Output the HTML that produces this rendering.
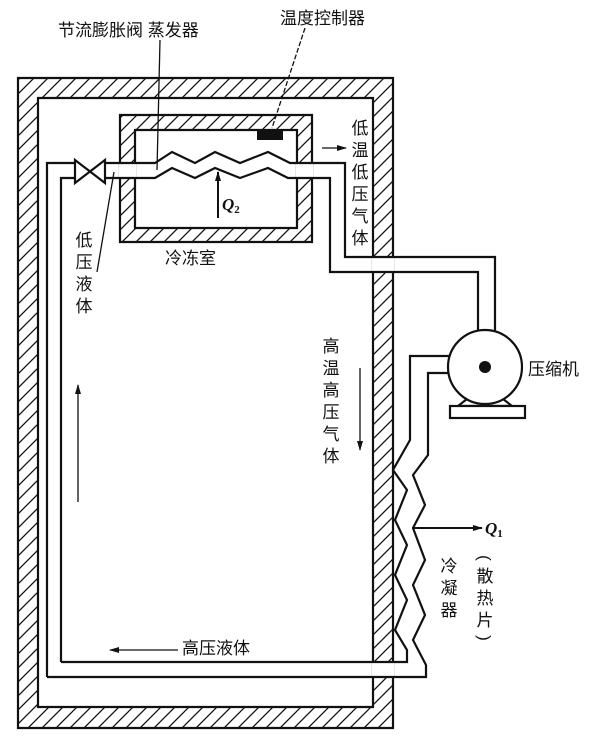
<!DOCTYPE html>
<html><head><meta charset="utf-8"><style>
html,body{margin:0;padding:0;background:#fff;}
svg{display:block;}
text{font-family:"Liberation Sans","Noto Sans CJK SC",sans-serif;fill:#111;}
</style></head><body>
<svg width="601" height="749" viewBox="0 0 601 749" xmlns="http://www.w3.org/2000/svg">
<defs>
<pattern id="h" width="14" height="14" patternUnits="userSpaceOnUse">
<path d="M-2,16 L16,-2 M-9,9 L9,-9 M5,23 L23,5" stroke="#111" stroke-width="1.3"/>
</pattern>
<marker id="a" markerWidth="10" markerHeight="8" refX="9" refY="4" orient="auto" markerUnits="userSpaceOnUse">
<path d="M0,1 L10,4 L0,7 Z" fill="#111"/>
</marker>
</defs>
<g stroke="#111" stroke-width="2.2" fill="none">
<path d="M18,78 H393 V728 H18 Z M38,98 V707 H373 V98 Z" fill="url(#h)" fill-rule="evenodd"/>
<path d="M120,115 H312 V242 H120 Z M135,130 V228 H297 V130 Z" fill="url(#h)" fill-rule="evenodd"/>
</g>
<rect x="372" y="258" width="22" height="13" fill="#fff"/>
<rect x="372" y="663" width="22" height="13" fill="#fff"/>
<rect x="119" y="164" width="17" height="13" fill="#fff"/>
<rect x="296" y="164" width="17" height="13" fill="#fff"/>
<rect x="48" y="164" width="12" height="498" fill="#fff"/>
<g stroke="#111" stroke-width="2.2" fill="none" stroke-linejoin="miter">
<path d="M47,677 V163 H75 M105,163 H155 L172,152 L195,163 L215,152 L240,163 L268,152 L290,163 H345 V257 H495 V332"/>
<path d="M61,662 V178 H75 M105,178 H155 L172,168 L195,178 L215,168 L240,178 L268,168 L288,178 H330 V272 H478 V332"/>
<path d="M75,160 L105,183 V160 L75,183 Z" fill="#fff"/>
<circle cx="485" cy="367" r="37" fill="#fff"/>
<path d="M467,399 L458,406 H512 L503,399"/>
<rect x="450" y="406" width="75" height="12" fill="#fff"/>
<path d="M449,356 H410 V440 L393,470 L407,490 L395,520 L407,545 L395,575 L407,600 L395,630 L407,650 V662 H61"/>
<path d="M449,373 H428 V455 L413,475 L425,505 L413,528 L425,560 L413,585 L425,615 L413,640 L426,665 V677 H47"/>
</g>
<circle cx="485" cy="367" r="6" fill="#111"/>
<rect x="257" y="129" width="26" height="11" fill="#111"/>
<g stroke="#111" stroke-width="1.3" fill="none">
<path d="M160,40 L157,170"/>
<path d="M305,28 L272,128" stroke-dasharray="5,2"/>
<path d="M97,272 L114,172"/>
<path d="M322,148 H346" marker-end="url(#a)"/>
<path d="M218,218 V172" marker-end="url(#a)" stroke-width="2"/>
<path d="M360,368 V450" marker-end="url(#a)"/>
<path d="M78,502 V385" marker-end="url(#a)"/>
<path d="M178,650 H110" marker-end="url(#a)"/>
<path d="M413,528 H482" marker-end="url(#a)" stroke-width="2"/>
</g>
<g font-size="17">
<text x="58" y="36">节流膨胀阀 蒸发器</text>
<text x="280" y="24">温度控制器</text>
<text x="165" y="264">冷冻室</text>
<text x="182" y="654">高压液体</text>
<text x="528" y="375">压缩机</text>
</g>
<g font-size="17" text-anchor="middle">
<text x="360" y="134">低</text><text x="360" y="156">温</text><text x="360" y="178">低</text><text x="360" y="200">压</text><text x="360" y="222">气</text><text x="360" y="244">体</text>
<text x="84" y="246">低</text><text x="84" y="268">压</text><text x="84" y="290">液</text><text x="84" y="312">体</text>
<text x="331" y="352">高</text><text x="331" y="374">温</text><text x="331" y="396">高</text><text x="331" y="418">压</text><text x="331" y="440">气</text><text x="331" y="462">体</text>
<text x="449" y="572">冷</text><text x="449" y="594">凝</text><text x="449" y="616">器</text>
<text x="485" y="564" transform="rotate(90 485 558)">(</text>
<text x="485" y="582">散</text><text x="485" y="604">热</text><text x="485" y="626">片</text>
<text x="485" y="644" transform="rotate(90 485 638)">)</text>
</g>
<text x="222" y="210" style="font-family:'Liberation Serif',serif;font-style:italic;font-weight:bold;font-size:17px">Q<tspan style="font-size:11px;font-style:normal" dy="3">2</tspan></text>
<text x="485" y="534" style="font-family:'Liberation Serif',serif;font-style:italic;font-weight:bold;font-size:17px">Q<tspan style="font-size:11px;font-style:normal" dy="3">1</tspan></text>
</svg>
</body></html>
